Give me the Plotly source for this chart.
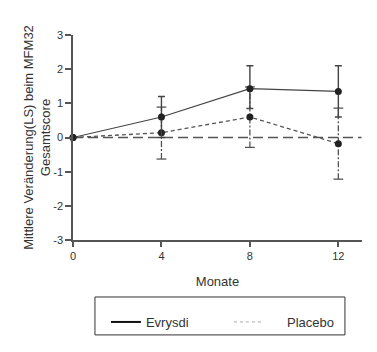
import plotly.graph_objects as go

months = [0, 4, 8, 12]
evrysdi = [0.0, 0.6, 1.43, 1.35]
evrysdi_up = [0.0, 0.6, 0.67, 0.75]
evrysdi_dn = [0.0, 0.6, 0.58, 0.75]
placebo = [0.0, 0.14, 0.6, -0.18]
placebo_up = [0.0, 0.75, 0.88, 1.04]
placebo_dn = [0.0, 0.77, 0.89, 1.04]
x_ticks = [0, 4, 8, 12]
y_ticks = [-3, -2, -1, 0, 1, 2, 3]
y_tick_labels = ["-3", "-2", "-1", "0", "1", "2", "3"]

font = "Arial, Liberation Sans, sans-serif"
fig = go.Figure()

# placebo error bars (dashed), drawn from data
for xi, yi, u, d in zip(months, placebo, placebo_up, placebo_dn):
    if u == 0 and d == 0:
        continue
    fig.add_trace(go.Scatter(x=[xi, xi], y=[yi - d, yi + u], mode="lines+markers",
                             line=dict(color="#555", width=1.3, dash="6px,2px,2px,2px"),
                             marker=dict(symbol="line-ew", size=7, line=dict(color="#555", width=1.3)),
                             showlegend=False, hoverinfo="skip", cliponaxis=False))

fig.add_trace(go.Scatter(x=months, y=placebo, mode="lines+markers",
                         line=dict(color="#555", width=1.3, dash="4px,3px"),
                         marker=dict(color="#222", size=7),
                         showlegend=False, cliponaxis=False))

fig.add_trace(go.Scatter(x=months, y=evrysdi, mode="lines+markers",
                         line=dict(color="#444", width=1.2),
                         marker=dict(color="#222", size=7),
                         error_y=dict(type="data", array=evrysdi_up, arrayminus=evrysdi_dn,
                                      color="#444", thickness=1.4, width=3.5),
                         showlegend=False, cliponaxis=False))

# legend entries
fig.add_trace(go.Scatter(x=[None], y=[None], mode="lines", name="Evrysdi",
                         line=dict(color="#111", width=2)))
fig.add_trace(go.Scatter(x=[None], y=[None], mode="lines", name="     Placebo",
                         line=dict(color="#aaa", width=1, dash="3px,3px")))

fig.add_shape(type="line", xref="x", yref="y", x0=0, x1=13.05, y0=0, y1=0,
              line=dict(color="#555", width=1.5, dash="10px,5px"), layer="below")

# legend frame
fig.add_shape(type="rect", xref="paper", yref="paper", x0=0.076, x1=0.941,
              y0=-0.463, y1=-0.278, line=dict(color="#333", width=1))

fig.update_layout(
    width=377, height=352,
    margin=dict(l=73, r=15, t=35, b=112),
    paper_bgcolor="white", plot_bgcolor="white",
    font=dict(family=font, color="#333", size=13),
    xaxis=dict(range=[0, 13.07], tickvals=x_ticks, ticks="outside", ticklen=5,
               tickcolor="#555", tickwidth=1.5, showline=True, linecolor="#555",
               linewidth=1.5, showgrid=False, zeroline=False,
               tickfont=dict(size=11, color="#333"),
               title=dict(text="Monate", font=dict(size=13), standoff=16)),
    yaxis=dict(range=[-3, 3], tickvals=y_ticks, ticktext=y_tick_labels,
               ticks="outside", ticklen=6,
               tickcolor="#555", tickwidth=1.5, showline=True, linecolor="#555",
               linewidth=1.5, showgrid=False, zeroline=False,
               tickfont=dict(size=11, color="#333"),
               title=dict(text="Mittlere Veränderung(LS) beim MFM32<br>Gesamtscore",
                          font=dict(size=13), standoff=0)),
    legend=dict(orientation="h", x=0.114, y=-0.4, xanchor="left", yanchor="middle",
                borderwidth=0, entrywidth=78, entrywidthmode="pixels",
                bgcolor="rgba(0,0,0,0)",
                font=dict(size=13, color="#333")),
)

fig.write_html("out.html")
